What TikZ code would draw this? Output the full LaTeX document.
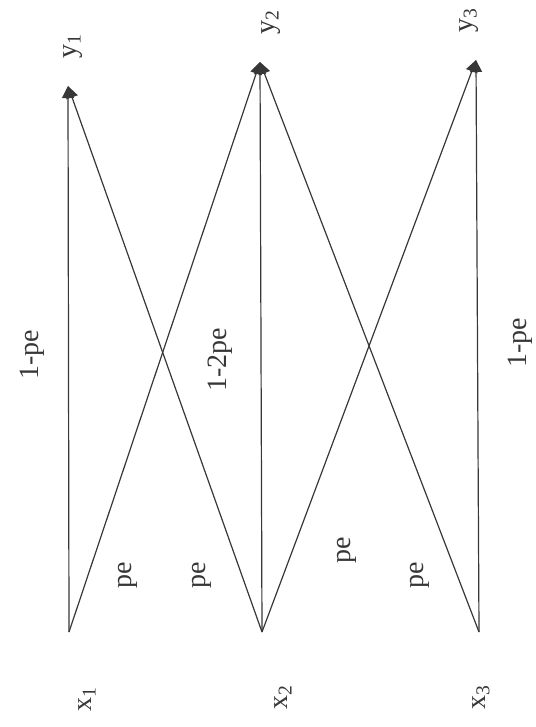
\documentclass[tikz,border=0pt]{standalone}
\usepackage{fontspec}
\setmainfont{Liberation Serif}
\usetikzlibrary{arrows.meta}
\definecolor{inkgray}{RGB}{55,55,55}

\begin{document}
\begin{tikzpicture}[x=0.5pt,y=-0.5pt,
    chan/.style={draw=inkgray,line width=0.6pt,-{Triangle[width=6pt,length=6pt]}},
    lab/.style={rotate=90,inner sep=0pt,text=inkgray,font=\fontsize{14}{16}\selectfont}]
  \useasboundingbox (0,0) rectangle (535,727);
  \coordinate (X1) at (69,632);
  \coordinate (X2) at (262,632);
  \coordinate (X3) at (479,632);
  \coordinate (Y1) at (68,86);
  \coordinate (Y2) at (260,62);
  \coordinate (Y3) at (476,60);
  \foreach \a/\b in {X1/Y1,X1/Y2,X2/Y1,X2/Y2,X2/Y3,X3/Y2,X3/Y3}
    \draw[chan] (\a)--(\b);
  \node[lab] (x1) at (87,699) {x\textsubscript{1}};
  \node[lab] (x2) at (283,697) {x\textsubscript{2}};
  \node[lab] (x3) at (481,697) {x\textsubscript{3}};
  \node[lab] (y1) at (73,46) {y\textsubscript{1}};
  \node[lab] (y2) at (271,22) {y\textsubscript{2}};
  \node[lab] (y3) at (469,20) {y\textsubscript{3}};
  \node[lab] (p11) at (32,355) {1-pe};
  \node[lab] (p22) at (220,360) {1-2pe};
  \node[lab] (p33) at (520,343) {1-pe};
  \node[lab] (p12) at (128,575) {pe};
  \node[lab] (p21) at (202,575) {pe};
  \node[lab] (p23) at (347,550) {pe};
  \node[lab] (p32) at (420,575) {pe};
\end{tikzpicture}
\end{document}
